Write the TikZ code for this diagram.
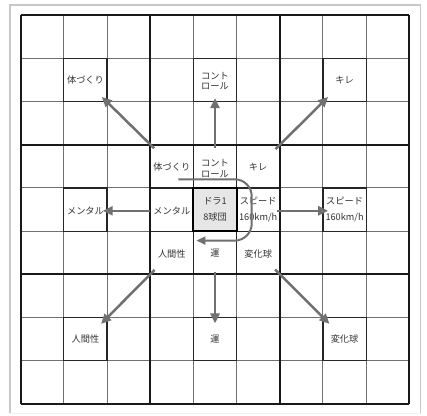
\documentclass[tikz,border=0pt]{standalone}
\usepackage{fontspec}
\setmainfont{Noto Sans CJK JP}
\usetikzlibrary{arrows.meta}
\definecolor{thincol}{HTML}{707070}
\definecolor{arrcol}{HTML}{707070}
\definecolor{framecol}{HTML}{C8C8C8}
\definecolor{ctrcol}{HTML}{E6E6E6}
\definecolor{txtcol}{HTML}{333333}
\tikzset{
 lbl/.style={font=\fontsize{9.2}{10.5}\selectfont, text=txtcol, align=center, inner sep=0pt},
 lbltwo/.style={lbl, font=\fontsize{9.2}{16.5}\selectfont},
 thinline/.style={draw=thincol, line width=1pt},
 cellline/.style={draw=black!85, line width=1.2pt},
 blockline/.style={draw=black!90, line width=1.8pt},
 bigarrow/.style={draw=arrcol, line width=2.5pt, -{Triangle[length=10pt,width=9pt]}},
 turnarrow/.style={draw=arrcol, line width=2pt, rounded corners=17pt, -{Triangle[length=9pt,width=8pt]}},
}
\begin{document}
\begin{tikzpicture}[x=1pt,y=-1pt]
\useasboundingbox (0,0) rectangle (427,415);
\fill[white] (0,0) rectangle (427,415);
\draw[framecol, line width=1.5pt] (10,413) -- (10,5) -- (420.5,5) -- (420.5,413);
\draw[black!6, line width=1pt] (10,413) -- (420.5,413);
\begin{scope}[shift={(20.7,15.3)}, x=43.18pt, y=-43.16pt]
 % thin grid
 \foreach \i in {0,...,9} {
  \draw[thinline] (\i,0) -- (\i,9);
  \draw[thinline] (0,\i) -- (9,\i);
 }
 % outer block centre cells
 \foreach \c/\r in {1/1,4/1,7/1,1/4,7/4,1/7,4/7,7/7}
  \draw[cellline] (\c,\r) rectangle ++(1,1);
 % centre block inner lines
 \foreach \i in {4,5} {
  \draw[cellline] (\i,3) -- (\i,6);
  \draw[cellline] (3,\i) -- (6,\i);
 }
 \filldraw[fill=ctrcol, draw=black, line width=2pt] (4,4) rectangle (5,5);
 % block lines
 \foreach \i in {0,3,6,9} {
  \draw[blockline] (\i,0) -- (\i,9);
  \draw[blockline] (0,\i) -- (9,\i);
 }
 % outer labels
 \node[lbl] (o1) at (1.5,1.5) {体づくり};
 \node[lbl] (o2) at (4.5,1.52) {コント\\ロール};
 \node[lbl] (o3) at (7.5,1.5) {キレ};
 \node[lbl] (o4) at (1.5,4.53) {メンタル};
 \node[lbltwo] (o5) at (7.5,4.5) {スピード\\160km/h};
 \node[lbl] (o6) at (1.5,7.5) {人間性};
 \node[lbl] (o7) at (4.5,7.5) {運};
 \node[lbl] (o8) at (7.5,7.5) {変化球};
 % centre labels
 \node[lbl] (c1) at (3.5,3.52) {体づくり};
 \node[lbl] (c2) at (4.5,3.55) {コント\\ロール};
 \node[lbl] (c3) at (5.5,3.52) {キレ};
 \node[lbl] (c4) at (3.5,4.53) {メンタル};
 \node[lbltwo] (c0) at (4.5,4.5) {ドラ1\\8球団};
 \node[lbltwo] (c5) at (5.5,4.5) {スピード\\160km/h};
 \node[lbl] (c6) at (3.5,5.52) {人間性};
 \node[lbl] (c7) at (4.5,5.52) {運};
 \node[lbl] (c8) at (5.5,5.52) {変化球};
 % arrow ends
 \coordinate (s1) at (3.09,3.08); \coordinate (e1) at (1.88,1.89);
 \coordinate (s2) at (4.5,3.07);  \coordinate (e2) at (4.5,1.92);
 \coordinate (s3) at (5.90,3.10); \coordinate (e3) at (7.12,1.89);
 \coordinate (s4) at (3.0,4.53);  \coordinate (e4) at (1.90,4.53);
 \coordinate (s5) at (5.94,4.53); \coordinate (e5) at (7.12,4.53);
 \coordinate (s6) at (3.10,5.90); \coordinate (e6) at (1.86,7.15);
 \coordinate (s7) at (4.5,5.94);  \coordinate (e7) at (4.5,7.14);
 \coordinate (s8) at (5.89,5.89); \coordinate (e8) at (7.15,7.15);
 \foreach \k in {1,...,8} \draw[bigarrow] (s\k) -- (e\k);
 % turning arrow
 \coordinate (ta) at (3.65,3.80);
 \coordinate (tb) at (5.35,3.80);
 \coordinate (tc) at (5.35,5.22);
 \coordinate (td) at (4.07,5.22);
 \draw[turnarrow] (ta) -- (tb) -- (tc) -- (td);
\end{scope}
\end{tikzpicture}
\end{document}
